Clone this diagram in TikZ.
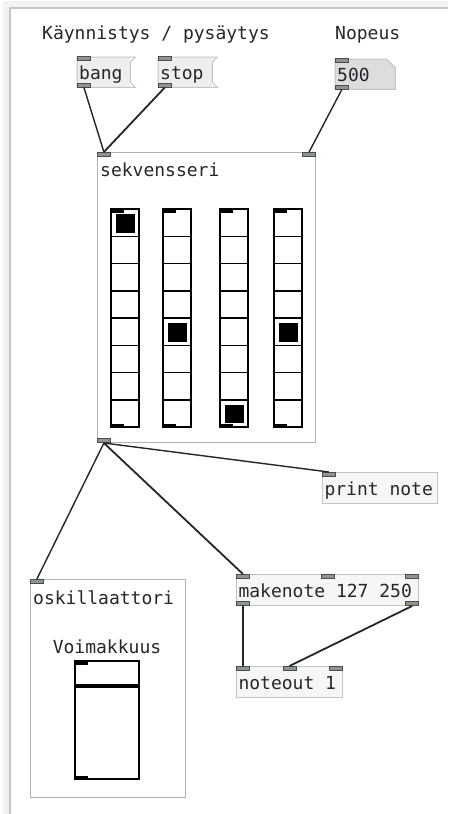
\documentclass[tikz,border=0pt]{standalone}
\usepackage{fontspec}
\setmonofont{DejaVu Sans Mono}
\usetikzlibrary{positioning,calc}
\definecolor{pdtext}{HTML}{26262E}
\definecolor{pdedge}{HTML}{C4C4C4}
\definecolor{pdfill}{HTML}{F6F6F6}
\definecolor{pdmsg}{HTML}{EEEEEE}
\definecolor{pdnum}{HTML}{DDDDDD}
\definecolor{pdport}{HTML}{8C968C}
\tikzstyle{pdfont}=[font=\ttfamily\fontsize{18}{20}\selectfont,text=pdtext]
\tikzstyle{pdlabel}=[pdfont,inner sep=0pt,anchor=base west]
\tikzstyle{objbox}=[pdfont,draw=pdedge,fill=pdfill,line width=1pt,anchor=north west,inner xsep=2pt,inner ysep=0pt,minimum height=31pt,text height=17pt,text depth=2pt,align=justify]
\tikzstyle{msgbox}=[pdfont,fill=pdmsg,anchor=north west,inner xsep=2pt,inner ysep=0pt,minimum height=30pt,text height=17pt,text depth=2pt,align=justify]
\tikzstyle{gopbox}=[draw=gray!60,fill=white,line width=1pt,anchor=north west,inner sep=0pt]
\tikzstyle{iolet}=[draw=black!70,fill=pdport,line width=0.8pt,minimum width=13pt,minimum height=4pt,inner sep=0pt]
\tikzstyle{wire}=[line width=1.4pt,black!85]
\tikzstyle{radio}=[line width=1.5pt,black]
\newcommand{\msgflag}[1]{\draw[pdedge,line width=1pt] (#1.north west) -- ($(#1.north east)+(5,0)$) -- ($(#1.north east)+(0,5)$) -- ($(#1.south east)+(0,-5)$) -- ($(#1.south east)+(5,0)$) -- (#1.south west) -- cycle;}

\begin{document}
\begin{tikzpicture}[x=1pt,y=-1pt]
  \useasboundingbox (0,0) rectangle (448,814);
  \fill[white] (0,0) rectangle (448,814);
  % window edge
  \draw[gray!10,line width=6pt] (6,814) -- (6,4) -- (448,4);
  \draw[gray!45,line width=1.5pt] (10,814) -- (10,8) -- (448,8);

  % titles
  \node[pdlabel] (startLabel) at (42,39) {Käynnistys / pysäytys};
  \node[pdlabel] (speedLabel) at (335,39) {Nopeus};

  % messages and number box
  \node[msgbox,text width=49pt] (bang) at (77,57) {bang};
  \msgflag{bang}
  \node[msgbox,text width=50pt] (stop) at (158,57) {stop};
  \msgflag{stop}
  \node[msgbox,fill=pdnum,text width=56pt] (speed) at (335,59) {500};
  \fill[white] ($(speed.north east)+(-9,-0.5)$) -- ($(speed.north east)+(0.5,-0.5)$) -- ($(speed.north east)+(0.5,9)$) -- cycle;
  \draw[pdedge,line width=1pt] (speed.north west) -- ($(speed.north east)+(-9,0)$) -- ($(speed.north east)+(0,9)$) -- (speed.south east) -- (speed.south west) -- cycle;

  % sequencer subpatch
  \node[gopbox,minimum width=218pt,minimum height=290pt] (seq) at (97,152) {};
  \node[pdlabel] (seqName) at (100,176) {sekvensseri};
  \foreach \cx/\sel in {111/0,163/4,220/7,274/4} {
    \foreach \r in {1,...,7}
      \draw[radio] (\cx,{209+\r*27.25}) -- ++(28,0);
    \draw[radio] (\cx,209) rectangle ++(28,218);
    \fill ({\cx+4.5},{209+\sel*27.25+5}) rectangle ++(19,18.5);
    \fill (\cx+1,210) rectangle ++(12,2.5);
    \fill (\cx+1,426) rectangle ++(12,-2.5);
  }

  % objects
  \node[objbox,text width=111pt] (print) at (322,472) {print note};
  \node[objbox,text width=178pt] (makenote) at (236,574) {makenote 127 250};
  \node[objbox,text width=102pt] (noteout) at (236,666) {noteout 1};

  % oscillator subpatch
  \node[gopbox,minimum width=155pt,minimum height=218pt] (osc) at (30,579) {};
  \node[pdlabel] (oscName) at (33,604) {oskillaattori};
  \node[pdfont,inner sep=0pt,anchor=base] (volLabel) at (107,653) {Voimakkuus};
  \draw[radio] (75,661) rectangle (139,779);
  \fill (75,684) rectangle (139,688);
  \fill (76,662) rectangle ++(12,2.5);
  \fill (76,778) rectangle ++(12,-2.5);

  % inlets and outlets
  \node[iolet,anchor=north west,yshift=1pt] (bangIn) at (bang.north west) {};
  \node[iolet,anchor=south west] (bangOut) at (bang.south west) {};
  \node[iolet,anchor=north west,yshift=1pt] (stopIn) at (stop.north west) {};
  \node[iolet,anchor=south west] (stopOut) at (stop.south west) {};
  \node[iolet,anchor=north west,yshift=1pt] (speedIn) at (speed.north west) {};
  \node[iolet,anchor=south west] (speedOut) at (speed.south west) {};
  \node[iolet,anchor=north west] (seqIn1) at (seq.north west) {};
  \node[iolet,anchor=north east] (seqIn2) at (seq.north east) {};
  \node[iolet,anchor=south west] (seqOut) at (seq.south west) {};
  \node[iolet,anchor=north west] (printIn) at (print.north west) {};
  \node[iolet,anchor=north west] (oscIn) at (osc.north west) {};
  \node[iolet,anchor=north west] (mkIn1) at (makenote.north west) {};
  \node[iolet,anchor=north] (mkIn2) at (makenote.north) {};
  \node[iolet,anchor=north east] (mkIn3) at (makenote.north east) {};
  \node[iolet,anchor=south west] (mkOut1) at (makenote.south west) {};
  \node[iolet,anchor=south east] (mkOut2) at (makenote.south east) {};
  \node[iolet,anchor=north west] (noteIn1) at (noteout.north west) {};
  \node[iolet,anchor=north] (noteIn2) at (noteout.north) {};
  \node[iolet,anchor=north east] (noteIn3) at (noteout.north east) {};

  % connections
  \draw[wire] (bangOut.south) -- (seqIn1.north);
  \draw[wire,line width=1.8pt] (stopOut.south) -- (seqIn1.north);
  \draw[wire] (speedOut.south) -- (seqIn2.north);
  \draw[wire] (seqOut.south) -- (printIn.north);
  \draw[wire] (seqOut.south) -- (oscIn.north);
  \draw[wire,line width=1.8pt] (seqOut.south) -- (mkIn1.north);
  \draw[wire] (mkOut1.south) -- (noteIn1.north);
  \draw[wire,line width=1.8pt] (mkOut2.south) -- (noteIn2.north);
\end{tikzpicture}
\end{document}
